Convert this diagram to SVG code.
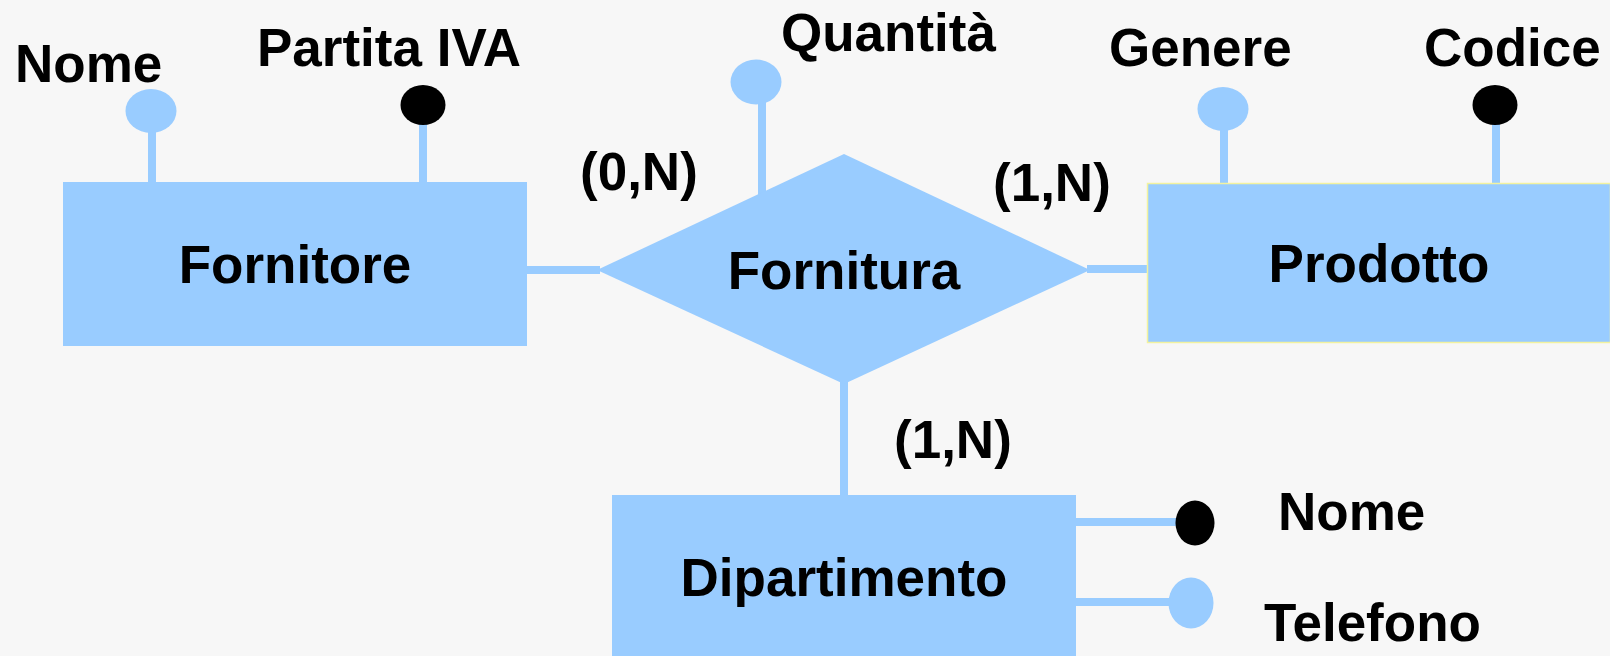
<svg xmlns="http://www.w3.org/2000/svg" width="1610" height="656" viewBox="0 0 1610 656">
<style>
.ent{fill:#99ccff;}
.rel{fill:#99ccff;}
.ln{stroke:#99ccff;stroke-width:8;fill:none;}
.attr{fill:#99ccff;}
.key{fill:#000000;}
.t{font-family:"Liberation Sans",Arial,sans-serif;font-weight:bold;font-size:53px;fill:#000000;}
.c{text-anchor:middle;}
</style>
<rect x="0" y="0" width="1610" height="656" fill="#f7f7f7"/>
<g id="connectors">
<line class="ln" x1="527" y1="270" x2="600" y2="270"/>
<line class="ln" x1="1087" y1="269" x2="1147" y2="269"/>
<line class="ln" x1="844" y1="380" x2="844" y2="495"/>
<line class="ln" x1="152" y1="130" x2="152" y2="182"/>
<line class="ln" x1="423" y1="122" x2="423" y2="182"/>
<line class="ln" x1="762" y1="100" x2="762" y2="195"/>
<line class="ln" x1="1224" y1="128" x2="1224" y2="183"/>
<line class="ln" x1="1496" y1="122" x2="1496" y2="183"/>
<line class="ln" x1="1074" y1="522" x2="1180" y2="522"/>
<line class="ln" x1="1074" y1="602" x2="1175" y2="602"/>
</g>
<g id="fornitore">
<rect class="ent" x="63" y="182" width="464" height="164"/>
<text class="t c" x="295" y="283">Fornitore</text>
</g>
<g id="attr-nome-fornitore">
<ellipse class="attr" cx="151" cy="111" rx="25.5" ry="22"/>
<text class="t" x="15" y="82">Nome</text>
</g>
<g id="attr-partita-iva">
<ellipse class="key" cx="423" cy="105" rx="22.5" ry="20"/>
<text class="t" x="257" y="66">Partita IVA</text>
</g>
<g id="fornitura">
<polygon class="rel" points="844,154 1090,270 844,384 597,270"/>
<text class="t c" x="844" y="289">Fornitura</text>
</g>
<g id="attr-quantita">
<ellipse class="attr" cx="756" cy="82" rx="25.5" ry="22.5"/>
<text class="t" x="781" y="51">Quantità</text>
</g>
<g id="prodotto">
<rect class="ent" x="1147.5" y="183.5" width="463" height="159" stroke="#f2f2a0" stroke-width="1.5"/>
<text class="t c" x="1379" y="282">Prodotto</text>
</g>
<g id="attr-genere">
<ellipse class="attr" cx="1223" cy="109" rx="25.5" ry="22"/>
<text class="t" x="1109" y="66">Genere</text>
</g>
<g id="attr-codice">
<ellipse class="key" cx="1495" cy="105" rx="22.5" ry="20"/>
<text class="t" x="1424" y="66">Codice</text>
</g>
<g id="dipartimento">
<rect class="ent" x="612" y="495" width="464" height="161"/>
<text class="t c" x="844" y="596">Dipartimento</text>
</g>
<g id="attr-nome-dipartimento">
<ellipse class="key" cx="1195" cy="523" rx="19.5" ry="22.5"/>
<text class="t" x="1278" y="530">Nome</text>
</g>
<g id="attr-telefono">
<ellipse class="attr" cx="1191" cy="603" rx="22.5" ry="25.5"/>
<text class="t" x="1264" y="641">Telefono</text>
</g>
<g id="cardinalities">
<text class="t" x="580" y="190">(0,N)</text>
<text class="t" x="993" y="201">(1,N)</text>
<text class="t" x="894" y="458">(1,N)</text>
</g>
</svg>
